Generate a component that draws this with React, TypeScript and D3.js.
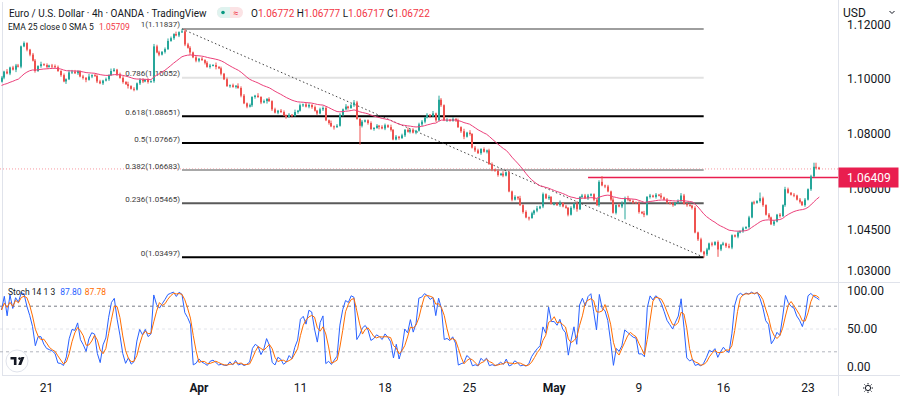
import React from 'react'
import * as d3 from 'd3'

// closes in pips above 1.0000 (e.g. 1006 -> 1.1006), one per 4h candle
const closes = [
    1006, 1028, 1021, 1043, 1035, 1050, 1046, 1120, 1132, 1108,
    1090, 1068, 1030, 1048, 1055, 1052, 1045, 1050, 1048, 1044,
    1030, 1015, 992, 1000, 1025, 1028, 1022, 1030, 1010, 1005,
    998, 1010, 1015, 1012, 992, 985, 995, 1000, 1015, 1030,
    1035, 1018, 1005, 990, 982, 975, 965, 962, 985, 998,
    992, 998, 990, 993, 1120, 1098, 1090, 1100, 1110, 1140,
    1150, 1165, 1160, 1172, 1175, 1127, 1115, 1098, 1080, 1068,
    1075, 1070, 1060, 1045, 1050, 1052, 1045, 1040, 1020, 1000,
    975, 978, 972, 976, 968, 940, 912, 900, 905, 935,
    940, 935, 915, 920, 928, 920, 890, 878, 885, 880,
    868, 862, 870, 866, 880, 885, 905, 908, 900, 906,
    898, 885, 875, 890, 895, 850, 840, 828, 825, 830,
    870, 890, 900, 895, 905, 915, 855, 830, 845, 850,
    840, 818, 822, 830, 826, 820, 832, 825, 815, 780,
    790, 785, 795, 815, 808, 815, 805, 812, 835, 845,
    860, 870, 865, 875, 850, 925, 905, 850, 852, 848,
    855, 850, 825, 810, 790, 805, 800, 750, 740, 730,
    745, 735, 740, 690, 670, 665, 650, 655, 648, 660,
    590, 560, 570, 565, 540, 515, 495, 493, 510, 520,
    528, 535, 580, 565, 570, 545, 545, 540, 548, 535,
    530, 505, 530, 545, 525, 570, 575, 565, 575, 580,
    560, 540, 625, 612, 608, 590, 560, 512, 540, 535,
    545, 565, 560, 555, 550, 548, 515, 510, 505, 570,
    575, 570, 578, 575, 568, 560, 550, 545, 540, 548,
    555, 575, 545, 540, 538, 530, 440, 415, 370, 360,
    378, 400, 395, 405, 378, 395, 400, 390, 385, 430,
    425, 440, 445, 455, 460, 495, 550, 548, 555, 565,
    540, 505, 495, 470, 480, 505, 500, 540, 598, 585,
    578, 575, 560, 552, 540, 560, 598, 645, 680, 677,
    672,
]
const firstOpen = 991
// wick lengths, base-36 digit x 3 pips
const upWicks =
    '2131222121' + '1221312122' + '2121322112' + '1312221213' + '2122131212' +
    '2121322123' + '2131332212' + '1212213121' + '2121322121' + '1312121212' +
    '2121312122' + '1212221312' + '2131232121' + '1212122131' + '2121312122' +
    '1213152121' + '2121313122' + '1212212131' + '2121312121' + '3121212231' +
    '2121312221' + '1227121312' + '3231212131' + '2121312121' + '2321212121' +
    '2121212131' + '1212121217' + '2121212132' + '1212121255' + '1'
const downWicks =
    '1212131212' + '2121212131' + '1213121212' + '3121212121' + '1212131212' +
    '2121212121' + '1212121312' + '2121213121' + '1212121212' + '2121312121' +
    '1212121212' + '2121212131' + '1212121n21' + '2121312121' + '1212121212' +
    '2121212121' + '1212312121' + '2121212121' + '1212121312' + '2121212121' +
    '1212312121' + '2121212121' + '2j21212131' + '2121212121' + '1212121214' +
    '2121921212' + '1212121212' + '2121212121' + '1212121212' + '1'
const emaSeed = 975

const timeTicks = [
    { i: 16, label: '21', month: false },
    { i: 70, label: 'Apr', month: true },
    { i: 106, label: '11', month: false },
    { i: 136, label: '18', month: false },
    { i: 166, label: '25', month: false },
    { i: 196, label: 'May', month: true },
    { i: 226, label: '9', month: false },
    { i: 256, label: '16', month: false },
    { i: 286, label: '23', month: false },
]
const priceTicks = [1.12, 1.1, 1.08, 1.06, 1.045, 1.03]
const stochTicks = [100, 50, 0]
const fibRatios = ['1', '0.786', '0.618', '0.5', '0.382', '0.236', '0']
const fibPrices = [1.11837, 1.10052, 1.08651, 1.07667, 1.06683, 1.05465, 1.03497]
const fibFrom = 64
const fibTo = 249
const levelPrice = 1.06409
const levelFrom = 208
const lastPrice = 1.06722

const fibColors = ['#9e9e9e', '#e2e2e2', '#000000', '#000000', '#a8a8a8', '#5a5a5a', '#000000']
const UP = '#26a69a'
const DOWN = '#ef5350'
const FONT = 'Roboto, "Liberation Sans", sans-serif'

const pip = (v: number) => 1 + v / 10000

export default function App() {
    const candles = closes.map((c, i) => {
        const o = i === 0 ? firstOpen : closes[i - 1]
        const up = parseInt(upWicks[i] || '1', 36) * 3
        const dn = parseInt(downWicks[i] || '1', 36) * 3
        return { o: pip(o), c: pip(c), h: pip(Math.max(o, c) + up), l: pip(Math.min(o, c) - dn) }
    })

    // EMA 25
    const alpha = 2 / 26
    let e = pip(emaSeed)
    const ema = candles.map((d) => (e = e + alpha * (d.c - e)))

    // Stoch 14 1 3
    const k = candles.map((d, i) => {
        const win = candles.slice(Math.max(0, i - 13), i + 1)
        const lo = d3.min(win, (w) => w.l)!
        const hi = d3.max(win, (w) => w.h)!
        return ((d.c - lo) / (hi - lo)) * 100
    })
    const dline = k.map((_, i) => d3.mean(k.slice(Math.max(0, i - 2), i + 1))!)

    const x = d3.scaleLinear().domain([0, closes.length - 1]).range([1.5, 1.5 + 2.82 * (closes.length - 1)])
    const y = d3.scaleLinear().domain([1.03, 1.12]).range([270.8, 24.5])
    const ys = d3.scaleLinear().domain([0, 100]).range([367, 291])

    const emaPath = d3.line<number>().x((_, i) => x(i)).y((v) => y(v))(ema)!
    const kPath = d3.line<number>().x((_, i) => x(i)).y((v) => ys(v))(k)!
    const dPath = d3.line<number>().x((_, i) => x(i)).y((v) => ys(v))(dline)!

    const axisX = 838
    const fx1 = x(fibFrom)
    const fx2 = x(fibTo)

    return (
        <div style={{ position: 'absolute', left: 0, top: 0 }}>
            <svg width={900} height={396} style={{ display: 'block', fontFamily: FONT }}>
                <rect width={900} height={396} fill="#fff" />
                <defs>
                    <clipPath id="mainClip">
                        <rect x={0} y={0} width={axisX} height={282} />
                    </clipPath>
                    <clipPath id="stochClip">
                        <rect x={0} y={283} width={axisX} height={92} />
                    </clipPath>
                </defs>

                {/* frame */}
                <line x1={2.5} x2={2.5} y1={2} y2={376} stroke="#e0e3eb" />
                <line x1={axisX + 0.5} x2={axisX + 0.5} y1={0} y2={396} stroke="#e0e3eb" />
                <line x1={2} x2={900} y1={282.5} y2={282.5} stroke="#e0e3eb" />
                <line x1={2} x2={900} y1={375.5} y2={375.5} stroke="#e0e3eb" />

                <g clipPath="url(#mainClip)">
                    {/* last price dotted line */}
                    <line x1={0} x2={axisX} y1={y(lastPrice)} y2={y(lastPrice)} stroke="#f23645" strokeOpacity={0.5} strokeDasharray="1 2" />

                    {/* fib levels */}
                    {fibPrices.map((p, i) => (
                        <g key={i}>
                            <line x1={fx1} x2={fx2} y1={y(p)} y2={y(p)} stroke={fibColors[i]} strokeWidth={2} />
                            <text x={fx1 - 2} y={y(p) - 1.5} fontSize={8} fill="#3a3a3a" textAnchor="end">
                                {`${fibRatios[i]}(${p.toFixed(5)})`}
                            </text>
                        </g>
                    ))}
                    {/* trend line */}
                    <line x1={fx1} y1={y(fibPrices[0])} x2={fx2} y2={y(fibPrices[6])} stroke="#444" strokeDasharray="1.5 2.5" />

                    {/* horizontal level */}
                    <line x1={x(levelFrom)} x2={axisX} y1={y(levelPrice)} y2={y(levelPrice)} stroke="#e91e4f" strokeWidth={1.6} />

                    {/* candles */}
                    {candles.map((d, i) => {
                        const cx = Math.round(x(i))
                        const col = d.c >= d.o ? UP : DOWN
                        const top = y(Math.max(d.o, d.c))
                        const bot = y(Math.min(d.o, d.c))
                        return (
                            <g key={i} fill={col}>
                                <rect x={cx - 0.5} y={y(d.h)} width={1} height={Math.max(1, y(d.l) - y(d.h))} />
                                <rect x={cx - 1} y={top} width={2} height={Math.max(1, bot - top)} />
                            </g>
                        )
                    })}

                    {/* EMA */}
                    <path d={emaPath} fill="none" stroke="#ec407a" strokeWidth={1} />
                </g>

                {/* legend */}
                <text x={9} y={17} fontSize={10} fill="#131722">
                    Euro / U.S. Dollar · 4h · OANDA · TradingView
                </text>
                <rect x={217} y={7} width={26} height={11} rx={5.5} fill="#fbe3e5" />
                <path d="M222.5 7 h7.5 v11 h-7.5 a5.5 5.5 0 0 1 0 -11z" fill="#dff3ef" />
                <circle cx={223} cy={12.5} r={1.8} fill="#089981" />
                <text x={236} y={15.5} fontSize={9} fill="#f23645" textAnchor="middle">≈</text>
                <text x={251} y={17} fontSize={10} fill="#f23645">
                    <tspan fill="#131722">O</tspan>1.06772 <tspan fill="#131722">H</tspan>1.06777{' '}
                    <tspan fill="#131722">L</tspan>1.06717 <tspan fill="#131722">C</tspan>1.06722
                </text>
                <text x={8} y={30} fontSize={8.5} fill="#131722">
                    EMA 25 close 0 SMA 5 <tspan fill="#f23645" dx={3}>1.05709</tspan>
                </text>

                {/* stoch pane */}
                <g clipPath="url(#stochClip)">
                    <line x1={0} x2={axisX} y1={ys(80)} y2={ys(80)} stroke="#787b86" strokeDasharray="3 3" />
                    <line x1={0} x2={axisX} y1={ys(50)} y2={ys(50)} stroke="#d1d4dc" strokeOpacity={0.6} strokeDasharray="3 3" />
                    <line x1={0} x2={axisX} y1={ys(20)} y2={ys(20)} stroke="#b2b5be" strokeDasharray="3 3" />
                    <path d={kPath} fill="none" stroke="#2962ff" strokeWidth={1} />
                    <path d={dPath} fill="none" stroke="#ff6d00" strokeWidth={1} />
                </g>
                <text x={8} y={294.5} fontSize={8.5} fill="#131722">
                    Stoch 14 1 3 <tspan fill="#2962ff" dx={3}>87.80</tspan>
                    <tspan fill="#ff6d00" dx={3}>87.78</tspan>
                </text>

                {/* TV logo */}
                <circle cx={17} cy={361} r={11} fill="#fff" stroke="#e0e3eb" />
                <path d="M10.5 357 h6 v8 h-2.6 v-5.4 h-3.4z" fill="#131722" />
                <circle cx={19.6} cy={358.6} r={1.4} fill="#131722" />
                <path d="M18.2 365 l3.2 -8 h3 l-3.2 8z" fill="#131722" />

                {/* price axis */}
                {priceTicks.map((p) => (
                    <text key={p} x={847} y={y(p) + 4} fontSize={12} fill="#131722">
                        {p.toFixed(5)}
                    </text>
                ))}
                <rect x={axisX + 1} y={0} width={900 - axisX} height={20} fill="#fff" />
                <text x={843} y={17} fontSize={12} fill="#131722">USD</text>
                <path d="M889.5 11 l2.5 2.5 l2.5 -2.5" fill="none" stroke="#131722" strokeWidth={1} />
                <rect x={axisX + 0.5} y={y(levelPrice) - 10} width={60} height={20} fill="#e91e4f" />
                <text x={847} y={y(levelPrice) + 4.5} fontSize={12} fill="#fff">
                    {levelPrice.toFixed(5)}
                </text>
                {stochTicks.map((v) => (
                    <text key={v} x={847} y={ys(v) + 4} fontSize={12} fill="#131722">
                        {v.toFixed(2)}
                    </text>
                ))}

                {/* time axis */}
                {timeTicks.map((t) => (
                    <text key={t.label} x={x(t.i)} y={391.5} fontSize={12} fill="#131722" textAnchor="middle" fontWeight={t.month ? 700 : 400}>
                        {t.label}
                    </text>
                ))}

                {/* settings gear */}
                <g stroke="#131722" fill="none">
                    <circle cx={868} cy={388} r={2.6} />
                    {d3.range(8).map((j) => {
                        const a = (j * Math.PI) / 4
                        return <line key={j} x1={868 + Math.cos(a) * 3.6} y1={388 + Math.sin(a) * 3.6} x2={868 + Math.cos(a) * 5} y2={388 + Math.sin(a) * 5} />
                    })}
                </g>
            </svg>
        </div>
    )
}
